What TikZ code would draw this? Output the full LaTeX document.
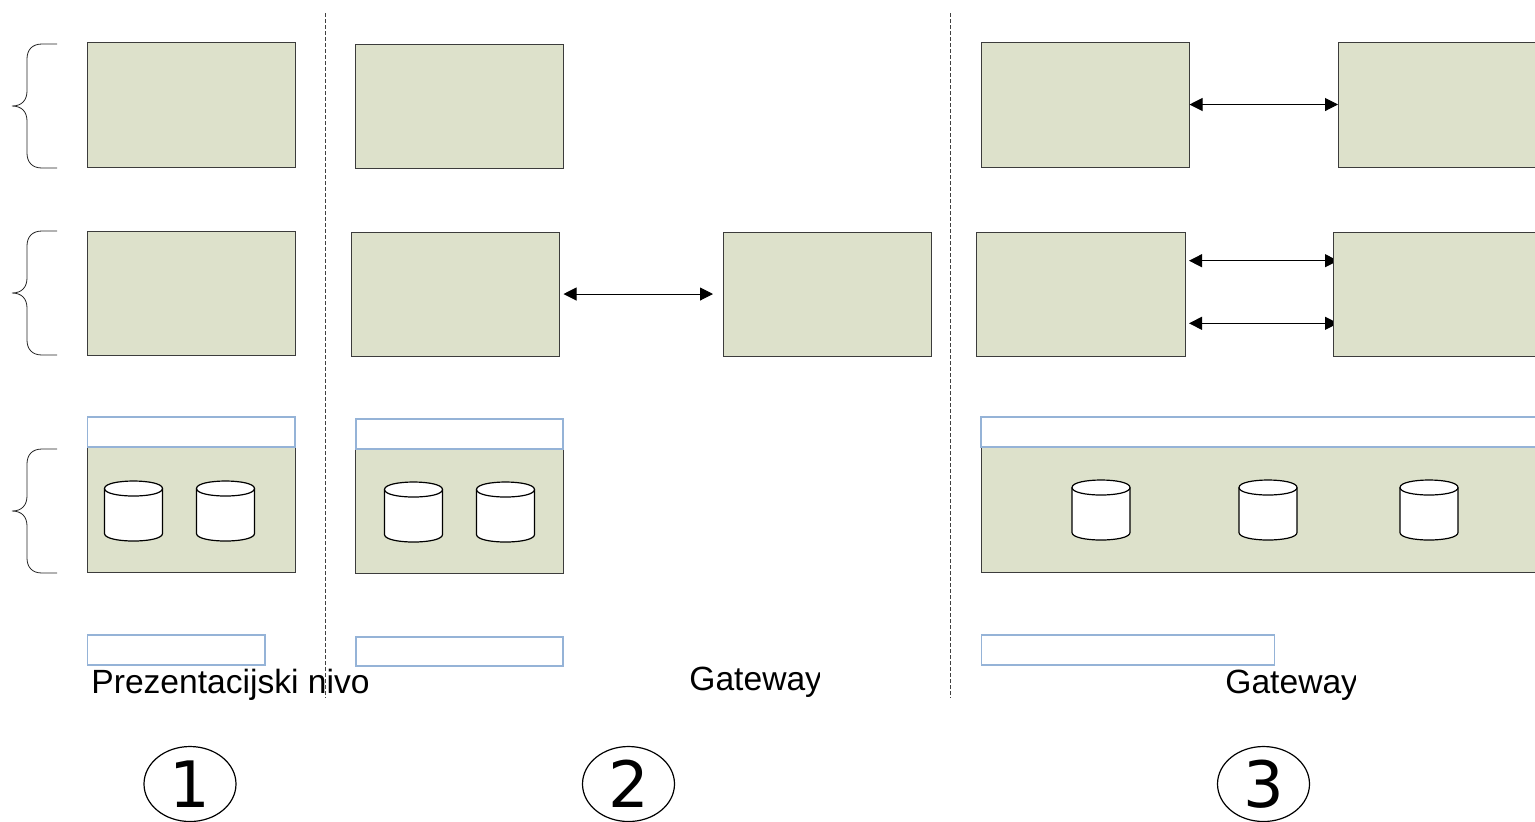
\documentclass[tikz,border=0pt]{standalone}
\usepackage{fontspec}
\setmainfont{Liberation Sans}
\newfontfamily\numfont{DejaVu Sans}
\usetikzlibrary{arrows.meta,shapes.geometric}
\definecolor{tierfill}{HTML}{DDE1CB}
\definecolor{tierline}{HTML}{3C3C3C}
\definecolor{labelline}{HTML}{95B3D7}
\tikzset{
  tierbox/.style={draw=tierline,fill=tierfill,line width=0.5pt,inner sep=0,outer sep=0},
  labelbox/.style={draw=labelline,fill=white,line width=0.7pt,inner sep=0,outer sep=0},
  link/.style={line width=0.5pt,black,{Triangle[length=6.5pt,width=6.5pt]}-{Triangle[length=6.5pt,width=6.5pt]}},
  divider/.style={line width=0.5pt,black!75,dash pattern=on 2pt off 1pt},
  brace/.style={line width=0.4pt,black!85},
  caption/.style={anchor=base west,inner sep=0,font=\fontsize{16.8}{20}\selectfont},
  badge/.style={draw=black,line width=0.6pt,ellipse,minimum width=46pt,minimum height=37.5pt,inner sep=0,font=\numfont\fontsize{32}{36}\selectfont},
  db/.pic={
    \draw[fill=white,line width=0.6pt] (-29,-22.5) -- (-29,22.5) .. controls (-29,32.5) and (29,32.5) .. (29,22.5) -- (29,-22.5) .. controls (29,-32.5) and (-29,-32.5) .. (-29,-22.5) -- cycle;
    \draw[line width=0.6pt] (-29,-22.5) .. controls (-29,-12.5) and (29,-12.5) .. (29,-22.5);
  }
}
\newcommand{\bx}[6]{\node[#1,minimum width={(#5-#3)*0.5pt},minimum height={(#6-#4)*0.5pt}] (#2) at ({(#3+#5)/2},{(#4+#6)/2}) {};}
\newcommand{\brc}[1]{\draw[brace,shift={(0,#1)}] (57,-62) -- (42,-62) .. controls (32,-62) and (27,-56) .. (27,-47) -- (27,-15) .. controls (27,-6) and (22,0) .. (12,0) .. controls (22,0) and (27,6) .. (27,15) -- (27,47) .. controls (27,56) and (32,62) .. (42,62) -- (57,62);}
\begin{document}
\begin{tikzpicture}[x=0.5pt,y=-0.5pt]
\useasboundingbox (0,0) rectangle (1535,821);
\clip (0,0) rectangle (1535,821);
% column 1
\bx{tierbox}{a1}{87}{42}{295.5}{167}
\bx{tierbox}{a2}{87}{231}{295.5}{355}
\bx{tierbox}{a3}{87}{447}{295.5}{572}
\bx{labelbox}{a4}{87.5}{417}{295}{447}
\bx{labelbox}{a5}{87.5}{635}{265}{665}
% column 2
\bx{tierbox}{b1}{355}{44}{563.5}{168.5}
\bx{tierbox}{b2}{351}{232}{559.5}{356}
\bx{tierbox}{g2}{723}{232}{931.5}{356}
\bx{tierbox}{b3}{355}{449}{563.5}{573}
\bx{labelbox}{b4}{356}{419}{563}{449}
\bx{labelbox}{b5}{356}{637}{563}{666}
% column 3
\bx{tierbox}{c1}{981}{42}{1189.5}{167}
\bx{tierbox}{d1}{1338}{42}{1560}{167}
\bx{tierbox}{c2}{976}{232}{1185}{356}
\bx{tierbox}{d2}{1333.5}{232}{1560}{356}
\bx{tierbox}{c3}{981}{447}{1560}{572}
\bx{labelbox}{c4}{981}{417}{1560}{447}
\bx{labelbox}{c5}{981.5}{635}{1274.5}{665}
% braces
\brc{106}\brc{293}\brc{511}
% cylinders
\path (133.5,511) pic {db} (225.5,511) pic {db};
\path (413.5,512) pic {db} (505.5,512) pic {db};
\path (1101,510) pic {db} (1268,510) pic {db} (1429,510) pic {db};
% connectors
\draw[link] (c1.east) -- (d1.west);
\draw[link,shorten <=2pt,shorten >=5pt] (b2.east) -- (g2.west);
\draw[link,shorten <=2pt,shorten >=-2.25pt] ([yshift=16.65pt]c2.east) -- ([yshift=16.65pt]d2.west);
\draw[link,shorten <=2pt,shorten >=-2.25pt] ([yshift=-14.65pt]c2.east) -- ([yshift=-14.65pt]d2.west);
\fill[tierfill] (1334,250) rectangle (1345,335);
\draw[tierline,line width=0.5pt] (d2.north west) -- (d2.south west);
% captions
\node[caption] (t1) at (91,693) {Prezentacijski nivo};
\begin{scope}
\clip (680,650) rectangle (819.5,710);
\node[caption] (t2) at (689,690) {Gateway};
\end{scope}
\begin{scope}
\clip (1215,650) rectangle (1355.5,710);
\node[caption] (t3) at (1225,693) {Gateway};
\end{scope}
% dividers
\coordinate (s1) at (325,13); \coordinate (e1) at (325,698);
\coordinate (s2) at (950.5,13); \coordinate (e2) at (950.5,698);
\draw[divider] (s1) -- (e1);
\draw[divider] (s2) -- (e2);
% badges
\node[badge] (n1) at (190,784) {\raisebox{-1pt}{1}};
\node[badge] (n2) at (628.5,784) {\raisebox{-1pt}{2}};
\node[badge] (n3) at (1263.5,784) {\raisebox{-1pt}{3}};
\end{tikzpicture}
\end{document}
